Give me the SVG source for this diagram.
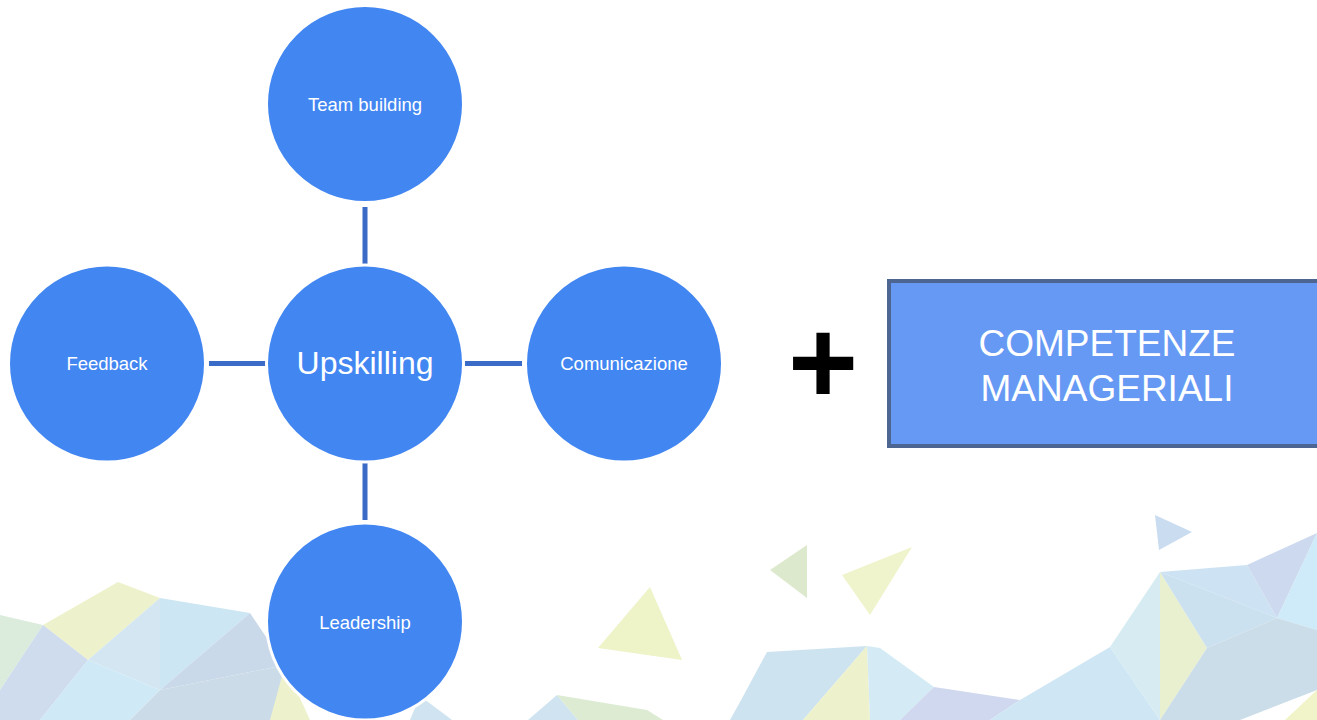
<svg xmlns="http://www.w3.org/2000/svg" width="1317" height="720" viewBox="0 0 1317 720">
<style>
.node{fill:#4286f2;stroke:#ffffff;stroke-width:3}
.lbl{font-family:"Liberation Sans",Arial,sans-serif;fill:#ffffff;text-anchor:middle}
.conn{stroke:#3a6bc6;stroke-width:5;fill:none}
</style>
<rect width="1317" height="720" fill="#ffffff"/>
<g id="background">
<polygon points="0,615 43,625 0,690" fill="#dcecdc"/>
<polygon points="43,625 118,582 160,598 88,660" fill="#eef2cc"/>
<polygon points="43,625 88,660 40,720 0,720 0,690" fill="#cfdcee"/>
<polygon points="88,660 160,598 160,690" fill="#d3e6f2"/>
<polygon points="160,598 250,613 160,690" fill="#cde6f4"/>
<polygon points="250,613 285,665 160,690" fill="#cad9ea"/>
<polygon points="88,660 160,690 130,720 40,720" fill="#cfeaf6"/>
<polygon points="160,690 285,665 300,720 130,720" fill="#cbdbe8"/>
<polygon points="285,665 310,720 270,720" fill="#eef2cc"/>
<polygon points="420,696 452,720 410,720" fill="#cfe3f0"/>
<polygon points="528,720 557,695 578,720" fill="#cfe3f0"/>
<polygon points="557,695 647,710 663,720 578,720" fill="#dcebd2"/>
<polygon points="650,587 598,648 682,660" fill="#eef3c8"/>
<polygon points="770,570 807,545 807,598" fill="#dde9cd"/>
<polygon points="842,575 912,547 870,615" fill="#f0f4cc"/>
<polygon points="1155,515 1192,532 1159,550" fill="#c9dcf0"/>
<polygon points="740,702 767,652 867,646 803,720 730,720" fill="#cde3f0"/>
<polygon points="867,646 870,720 803,720" fill="#eef2cc"/>
<polygon points="867,646 880,648 934,687 900,720 870,720" fill="#d4ebf5"/>
<polygon points="934,687 1020,700 990,720 900,720" fill="#cfd8ee"/>
<polygon points="1020,700 1110,647 1160,720 990,720" fill="#cfe6f4"/>
<polygon points="1110,647 1160,572 1160,720" fill="#d6ecf2"/>
<polygon points="1160,572 1207,648 1160,720" fill="#e9f0cf"/>
<polygon points="1160,572 1247,565 1277,618" fill="#cde2f2"/>
<polygon points="1247,565 1317,533 1277,618" fill="#cdd9ee"/>
<polygon points="1317,533 1317,630 1277,618" fill="#cfeaf8"/>
<polygon points="1160,572 1277,618 1207,648" fill="#cbe1f0"/>
<polygon points="1207,648 1277,618 1317,630 1317,690 1240,720 1160,720" fill="#cbdde8"/>
<polygon points="1317,690 1317,720 1285,720" fill="#f1f3c8"/>
</g>
<g id="connectors">
<line class="conn" x1="365" y1="207" x2="365" y2="264"/>
<line class="conn" x1="365" y1="463" x2="365" y2="520"/>
<line class="conn" x1="209" y1="363.5" x2="266" y2="363.5"/>
<line class="conn" x1="465" y1="363.5" x2="522" y2="363.5"/>
</g>
<g id="node-team-building">
<circle class="node" cx="365" cy="104" r="98.5"/>
<text class="lbl" x="365" y="111" font-size="18.5">Team building</text>
</g>
<g id="node-upskilling">
<circle class="node" cx="365" cy="363.5" r="98.5"/>
<text class="lbl" x="365" y="374" font-size="32">Upskilling</text>
</g>
<g id="node-feedback">
<circle class="node" cx="107" cy="363.5" r="98.5"/>
<text class="lbl" x="107" y="370" font-size="18.5">Feedback</text>
</g>
<g id="node-comunicazione">
<circle class="node" cx="624" cy="363.5" r="98.5"/>
<text class="lbl" x="624" y="370" font-size="18.5">Comunicazione</text>
</g>
<g id="node-leadership">
<circle class="node" cx="365" cy="621.5" r="98.5"/>
<text class="lbl" x="365" y="629" font-size="18.5">Leadership</text>
</g>
<g id="plus">
<text x="823" y="404" font-family="'Liberation Sans',Arial,sans-serif" font-weight="bold" font-size="120" fill="#000000" text-anchor="middle">+</text>
</g>
<g id="node-competenze">
<rect x="889" y="281" width="440" height="165" fill="#6699f4" stroke="#4c6591" stroke-width="4"/>
<text class="lbl" x="1107" y="356" font-size="37">COMPETENZE</text>
<text class="lbl" x="1107" y="401" font-size="37">MANAGERIALI</text>
</g>
</svg>
